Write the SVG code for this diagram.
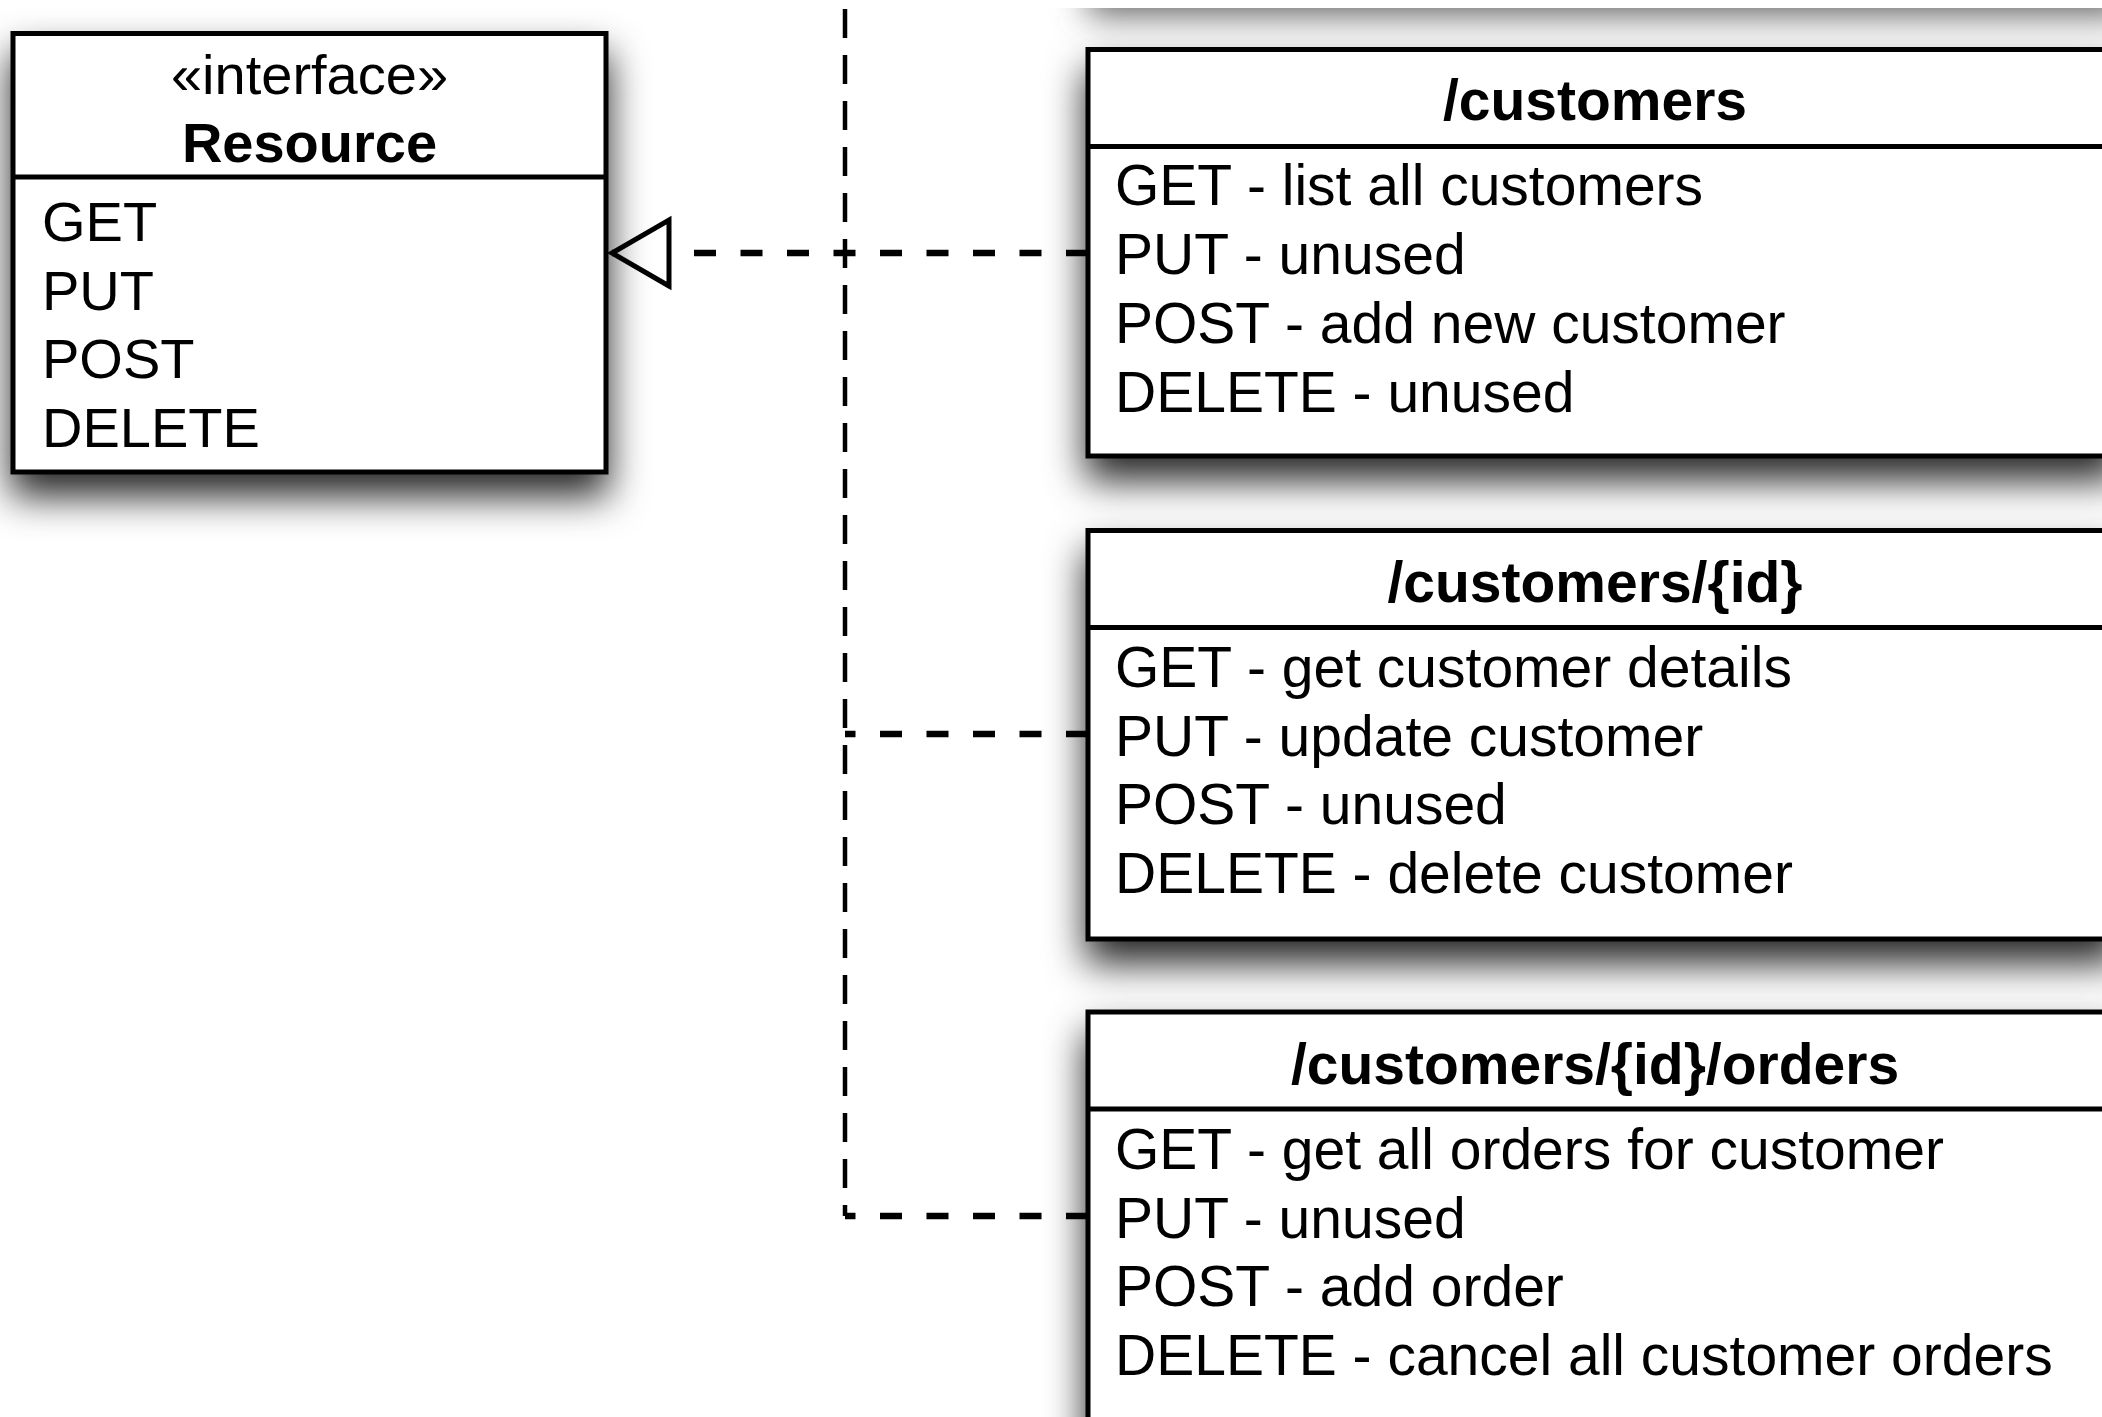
<svg xmlns="http://www.w3.org/2000/svg" width="2102" height="1417" viewBox="0 0 2102 1417">
<style>
.box{fill:#fff;stroke:#000;stroke-width:5}
.div{stroke:#000;stroke-width:5}
.t{font-family:"Liberation Sans",Arial,sans-serif;font-size:57px;fill:#000}
.tl{font-family:"Liberation Sans",Arial,sans-serif;font-size:56px;fill:#000}
.b{font-weight:bold}
.c{text-anchor:middle}
.h{fill:none;stroke:#000;stroke-width:6.5;stroke-dasharray:22 24.5}
.v{fill:none;stroke:#000;stroke-width:4.5;stroke-dasharray:29 17}
</style>
<defs>
<filter id="sh" x="-10%" y="-20%" width="120%" height="170%">
<feDropShadow dx="0" dy="22" stdDeviation="19" flood-color="#000" flood-opacity="0.85"/>
</filter>
<filter id="blur" x="-20%" y="-200%" width="140%" height="500%">
<feGaussianBlur stdDeviation="17"/>
</filter>
<clipPath id="topclip"><rect x="0" y="8" width="2102" height="60"/></clipPath>
<marker id="tri" viewBox="-4 -4 65 74" refX="57" refY="33" markerWidth="65" markerHeight="74" markerUnits="userSpaceOnUse" orient="auto" overflow="visible">
<path d="M0,0 L57,33 L0,66 Z" fill="#fff" stroke="#000" stroke-width="5"/>
</marker>
</defs>
<rect width="2102" height="1417" fill="#fff"/>
<g id="top-shadow" clip-path="url(#topclip)">
<rect x="1088" y="-40" width="1040" height="56" fill="#666" filter="url(#blur)"/>
</g>
<g id="connectors">
<path class="v" d="M845,9 V1216"/>
<path class="h" d="M1088,253 H612" marker-end="url(#tri)"/>
<path class="h" d="M1088,734 H845"/>
<path class="h" d="M1088,1216 H845"/>
</g>
<g id="resource">
<rect class="box" x="13" y="33.5" width="593" height="438.5" filter="url(#sh)"/>
<line class="div" x1="13" y1="177" x2="606" y2="177"/>
<text class="tl c" x="309.5" y="94">«interface»</text>
<text class="tl c b" x="309.5" y="162">Resource</text>
<text class="tl" x="42" y="241">GET</text>
<text class="tl" x="42" y="309.5">PUT</text>
<text class="tl" x="42" y="378">POST</text>
<text class="tl" x="42" y="446.5">DELETE</text>
</g>
<g id="customers">
<rect class="box" x="1088" y="49.5" width="1030" height="406.5" filter="url(#sh)"/>
<line class="div" x1="1088" y1="146.5" x2="2110" y2="146.5"/>
<text class="t c b" x="1595" y="120">/customers</text>
<text class="t" x="1115" y="205">GET - list all customers</text>
<text class="t" x="1115" y="274">PUT - unused</text>
<text class="t" x="1115" y="343">POST - add new customer</text>
<text class="t" x="1115" y="412">DELETE - unused</text>
</g>
<g id="customer-id">
<rect class="box" x="1088" y="530.5" width="1030" height="408.5" filter="url(#sh)"/>
<line class="div" x1="1088" y1="627.5" x2="2110" y2="627.5"/>
<text class="t c b" x="1595" y="602">/customers/{id}</text>
<text class="t" x="1115" y="687">GET - get customer details</text>
<text class="t" x="1115" y="756">PUT - update customer</text>
<text class="t" x="1115" y="824">POST - unused</text>
<text class="t" x="1115" y="893">DELETE - delete customer</text>
</g>
<g id="customer-orders">
<rect class="box" x="1088" y="1012" width="1030" height="500" filter="url(#sh)"/>
<line class="div" x1="1088" y1="1109" x2="2110" y2="1109"/>
<text class="t c b" x="1595" y="1084">/customers/{id}/orders</text>
<text class="t" x="1115" y="1169">GET - get all orders for customer</text>
<text class="t" x="1115" y="1238">PUT - unused</text>
<text class="t" x="1115" y="1306">POST - add order</text>
<text class="t" x="1115" y="1375">DELETE - cancel all customer orders</text>
</g>
</svg>
